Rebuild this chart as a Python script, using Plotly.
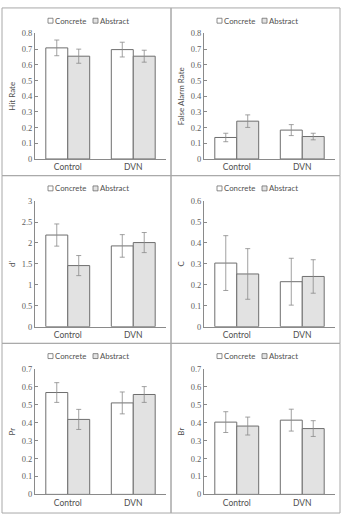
import plotly.graph_objects as go

W, H = 343, 519

categories = ["Control", "DVN"]
series_names = ["Concrete", "Abstract"]

panel_titles = ["Hit Rate", "False Alarm Rate", "d'", "C", "Pr", "Br"]

hit_concrete = [0.708, 0.697]
hit_abstract = [0.655, 0.655]
hit_concrete_err = [0.05, 0.047]
hit_abstract_err = [0.045, 0.038]

fa_concrete = [0.137, 0.184]
fa_abstract = [0.241, 0.143]
fa_concrete_err = [0.027, 0.035]
fa_abstract_err = [0.04, 0.021]

d_concrete = [2.19, 1.93]
d_abstract = [1.46, 2.01]
d_concrete_err = [0.265, 0.27]
d_abstract_err = [0.24, 0.24]

c_concrete = [0.304, 0.215]
c_abstract = [0.252, 0.240]
c_concrete_err = [0.131, 0.112]
c_abstract_err = [0.121, 0.080]

pr_concrete = [0.568, 0.510]
pr_abstract = [0.418, 0.557]
pr_concrete_err = [0.055, 0.061]
pr_abstract_err = [0.056, 0.044]

br_concrete = [0.403, 0.414]
br_abstract = [0.381, 0.367]
br_concrete_err = [0.058, 0.061]
br_abstract_err = [0.050, 0.044]

y_max = [0.8, 0.8, 3, 0.6, 0.7, 0.7]
y_dtick = [0.1, 0.1, 0.5, 0.1, 0.1, 0.1]

panels = [
    (hit_concrete, hit_abstract, hit_concrete_err, hit_abstract_err),
    (fa_concrete, fa_abstract, fa_concrete_err, fa_abstract_err),
    (d_concrete, d_abstract, d_concrete_err, d_abstract_err),
    (c_concrete, c_abstract, c_concrete_err, c_abstract_err),
    (pr_concrete, pr_abstract, pr_concrete_err, pr_abstract_err),
    (br_concrete, br_abstract, br_concrete_err, br_abstract_err),
]

FONT = "Lato"
EDGE = "#6e6e6e"
FILLS = ["#ffffff", "#e2e2e2"]
GRID_C = "#a8a8a8"
TXT = "#505050"

# layout geometry in pixels
col_x0 = [2, 171]
col_x1 = [171, 340]
row_y0 = [3, 174, 345]
row_y1 = [174, 345, 518]
ax_left_off = 33      # axis x start relative to col left
ax_right_off = 164
ax_top_off = 26       # top tick relative to row top
ax_bot_off = 154


def px(x):
    return x / W


def py(y):
    return 1 - y / H


fig = go.Figure()
layout = dict(
    width=W, height=H, margin=dict(l=0, r=0, t=0, b=0),
    paper_bgcolor="white", plot_bgcolor="white",
    showlegend=False, barmode="group", bargap=0.33, bargroupgap=0,
    font=dict(family=FONT, size=8, color=TXT),
)
shapes = []
annotations = []

for i, (vc, va, ec, ea) in enumerate(panels):
    r, c = divmod(i, 2)
    n = i + 1
    xa = "x" if n == 1 else f"x{n}"
    ya = "y" if n == 1 else f"y{n}"
    for s, (vals, errs) in enumerate([(vc, ec), (va, ea)]):
        fig.add_trace(go.Bar(
            x=categories, y=vals, name=series_names[s],
            xaxis=xa, yaxis=ya,
            marker=dict(color=FILLS[s], line=dict(color=EDGE, width=1)),
            error_y=dict(type="data", array=errs, color="#8a8a8a",
                         thickness=0.8, width=2.5),
        ))
    x0 = col_x0[c] + ax_left_off
    x1 = col_x0[c] + ax_right_off
    y0 = row_y0[r] + ax_top_off
    y1 = row_y0[r] + ax_bot_off
    xkey = "xaxis" if n == 1 else f"xaxis{n}"
    ykey = "yaxis" if n == 1 else f"yaxis{n}"
    layout[xkey] = dict(
        domain=[px(x0), px(x1)], anchor=ya,
        showline=True, linecolor="#8a8a8a", linewidth=1,
        ticks="", tickfont=dict(size=8.5, family=FONT, color=TXT),
        showgrid=False, fixedrange=True,
    )
    layout[ykey] = dict(
        domain=[py(y1), py(y0)], anchor=xa,
        range=[0, y_max[i]], dtick=y_dtick[i], tick0=0,
        showline=True, linecolor="#8a8a8a", linewidth=1,
        ticks="inside", ticklen=3, tickcolor="#8a8a8a",
        tickfont=dict(size=8.5, family="Liberation Serif", color="#606060"),
        showgrid=False, zeroline=False,
        title=dict(text=panel_titles[i], font=dict(size=8, family=FONT, color=TXT),
                   standoff=4),
    )
    # manual legend
    lx = col_x0[c] + 46
    ly = row_y0[r] + 13
    for s in range(2):
        sx = lx + s * 45
        shapes.append(dict(
            type="rect", xref="paper", yref="paper",
            x0=px(sx), x1=px(sx + 5), y0=py(ly + 2.5), y1=py(ly - 2.5),
            line=dict(color=EDGE, width=0.8), fillcolor=FILLS[s],
        ))
        annotations.append(dict(
            x=px(sx + 5), y=py(ly), xref="paper", yref="paper",
            text=series_names[s], showarrow=False, xanchor="left", yanchor="middle",
            font=dict(size=7.8, family=FONT, color=TXT),
        ))

# panel borders
for r in range(3):
    for c in range(2):
        shapes.append(dict(
            type="rect", xref="paper", yref="paper",
            x0=px(col_x0[c]), x1=px(col_x1[c]),
            y0=py(row_y1[r]), y1=py(row_y0[r]),
            line=dict(color=GRID_C, width=1), fillcolor="rgba(0,0,0,0)",
            layer="below",
        ))

layout["shapes"] = shapes
layout["annotations"] = annotations
fig.update_layout(**layout)
fig.write_html("out.html")
